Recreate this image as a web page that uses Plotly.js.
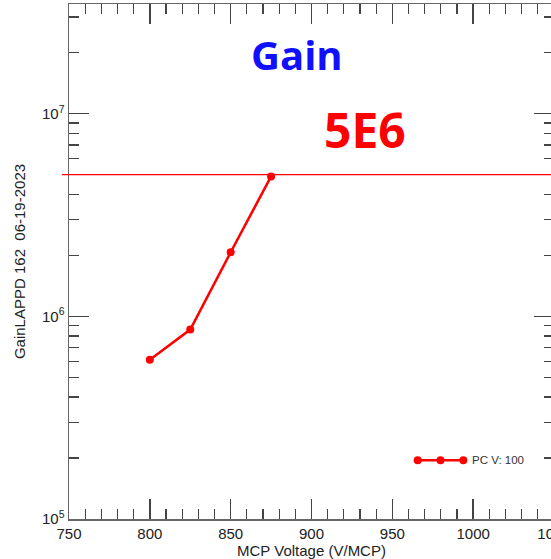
<!DOCTYPE html>
<html>
<head>
<meta charset="utf-8">
<script src="https://cdn.plot.ly/plotly-3.0.1.min.js"></script>
<style>
  html, body { margin: 0; padding: 0; overflow: hidden; background: #fff; }
  #chart { width: 580px; height: 559px; }
</style>
</head>
<body>
<div id="chart"></div>
<script>
// MCP voltage scan, PC at 100 V
const mcpVoltage = [800, 825, 850, 875];
const gain = [6.1e5, 8.6e5, 2.07e6, 4.9e6];
const seriesName = 'PC V: 100';

// target gain level
const targetGain = 5e6;
const targetLabel = '5E6';

const xTickVals = [750, 800, 850, 900, 950, 1000, 1050];
const yTickVals = [1e5, 1e6, 1e7];
const yTickText = ['10<sup>5</sup>', '10<sup>6</sup>', '10<sup>7</sup>'];

// minor ticks 2..9 within each decade
const yMinor = [];
for (let e = 5; e <= 7; e++) {
  for (let m = 2; m <= 9; m++) yMinor.push(m * Math.pow(10, e));
}

const axisColor = '#666';
const baseFont = 'Liberation Sans, Arial, sans-serif';
const tickFont = { family: baseFont, size: 15, color: '#222' };
const titleFont = { family: baseFont, size: 15, color: '#222' };

const trace = {
  x: mcpVoltage,
  y: gain,
  type: 'scatter',
  mode: 'lines+markers',
  name: seriesName,
  line: { color: '#ff0000', width: 2.5 },
  marker: { color: '#ff0000', size: 8 },
  showlegend: false
};

// legend sample: line with three dots
const legX = [0.719, 0.766, 0.813];
const legY = 0.114;
const shapes = [
  { type: 'line', xref: 'paper', yref: 'y', x0: -0.0144, x1: 1, y0: targetGain, y1: targetGain,
    line: { color: '#ff0000', width: 1.2 } },
  { type: 'line', xref: 'paper', yref: 'paper', x0: legX[0], x1: legX[2], y0: legY, y1: legY,
    line: { color: '#ff0000', width: 2.5 } }
];
legX.forEach(function (px) {
  shapes.push({
    type: 'circle', xref: 'paper', yref: 'paper', xsizemode: 'pixel', ysizemode: 'pixel',
    xanchor: px, yanchor: legY, x0: -4, x1: 4, y0: -4, y1: 4,
    fillcolor: '#ff0000', line: { color: '#ff0000', width: 0 }
  });
});

const layout = {
  width: 580,
  height: 559,
  margin: { l: 69, r: 26, t: 4, b: 40 },
  paper_bgcolor: '#fff',
  plot_bgcolor: '#fff',
  showlegend: false,
  xaxis: {
    range: [750, 1050],
    tickvals: xTickVals,
    ticks: 'inside',
    ticklen: 20,
    tickwidth: 1.5,
    tickcolor: '#444',
    showline: true,
    linecolor: axisColor,
    linewidth: 1.5,
    mirror: 'ticks',
    showgrid: false,
    zeroline: false,
    tickfont: tickFont,
    minor: { dtick: 10, ticks: 'inside', ticklen: 10, tickwidth: 1.2, tickcolor: '#444', showgrid: false },
    title: { text: 'MCP Voltage (V/MCP)', font: titleFont, standoff: 0 }
  },
  yaxis: {
    type: 'log',
    range: [5, 7.541],
    tickvals: yTickVals,
    ticktext: yTickText,
    ticks: 'inside',
    ticklen: 20,
    tickwidth: 1.5,
    tickcolor: '#444',
    showline: true,
    linecolor: axisColor,
    linewidth: 1.5,
    mirror: 'ticks',
    showgrid: false,
    zeroline: false,
    tickfont: tickFont,
    minor: { tickvals: yMinor, ticks: 'inside', ticklen: 10, tickwidth: 1.2, tickcolor: '#444', showgrid: false },
    title: { text: 'GainLAPPD 162  06-19-2023', font: titleFont, standoff: 12 }
  },
  shapes: shapes,
  annotations: [
    { text: '<b>Gain</b>', xref: 'paper', yref: 'paper', x: 0.471, y: 0.902, xanchor: 'center', yanchor: 'middle',
      showarrow: false, font: { family: 'Open Sans, sans-serif', size: 40, color: '#1010ff' } },
    { text: '<b>' + targetLabel + '</b>', xref: 'paper', yref: 'paper', x: 0.611, y: 0.757, xanchor: 'center', yanchor: 'middle',
      showarrow: false, font: { family: 'Open Sans, sans-serif', size: 48, color: '#ff0000' } },
    { text: seriesName, xref: 'paper', yref: 'paper', x: 0.826, y: legY, xanchor: 'left', yanchor: 'middle',
      showarrow: false, font: { family: baseFont, size: 11.5, color: '#333' } }
  ]
};

Plotly.newPlot('chart', [trace], layout, { displayModeBar: false, staticPlot: true });
</script>
</body>
</html>
